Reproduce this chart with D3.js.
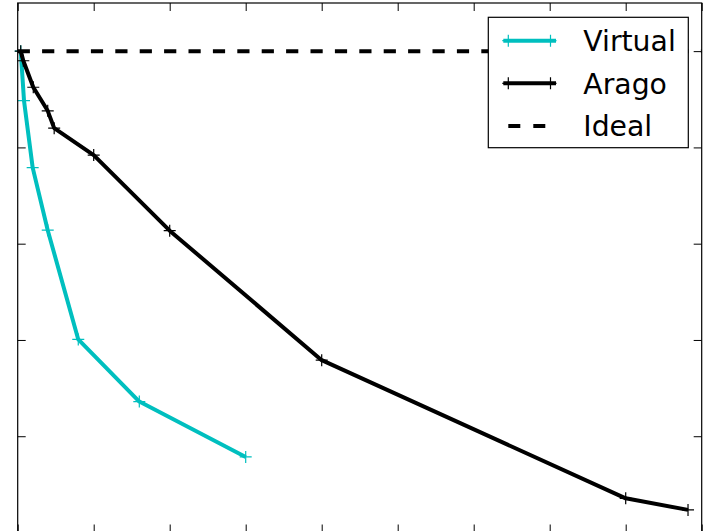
<!DOCTYPE html>
<html>
<head>
<meta charset="utf-8">
<script src="https://cdn.jsdelivr.net/npm/d3@7"></script>
<style>
  html, body { margin: 0; padding: 0; background: #fff; }
  svg { display: block; }
</style>
</head>
<body>
<svg id="chart" width="703" height="531"></svg>
<script>
// Series values
const virtualX = [0.04, 0.083, 0.197, 0.395, 0.797, 1.6, 3.0];
const virtualY = [1.0, 0.897, 0.758, 0.628, 0.401, 0.272, 0.157];
const aragoX = [0.04, 0.074, 0.205, 0.395, 0.48, 1.0, 2.0, 4.0, 8.0, 8.82];
const aragoY = [1.0, 0.98, 0.925, 0.876, 0.84, 0.784, 0.627, 0.358, 0.071, 0.047];
const idealX = [0, 9];
const idealY = [1.0, 1.0];

// Axis ticks
const xTicks = [0, 1, 2, 3, 4, 5, 6, 7, 8, 9];
const yTicks = [0, 0.2, 0.4, 0.6, 0.8, 1.0];

// Legend entries
const legendNames = ["Virtual", "Arago", "Ideal"];

const svg = d3.select("#chart");
const plotLeft = 17.7, plotRight = 701.7, plotTop = 3, plotBottom = 532.5;

const x = d3.scaleLinear().domain([0, 9]).range([plotLeft, plotRight]);
const y = d3.scaleLinear().domain([0, 1.1]).range([plotBottom, plotTop]);

const cyan = "#00bfbf";
const lineW = 4;

const toPts = (xs, ys) => xs.map((d, i) => [d, ys[i]]);
const line = d3.line().x(d => x(d[0])).y(d => y(d[1]));

// Data lines
function drawSeries(pts, color, dash) {
  svg.append("path")
    .datum(pts)
    .attr("d", line)
    .attr("fill", "none")
    .attr("stroke", color)
    .attr("stroke-width", lineW)
    .attr("stroke-linejoin", "round")
    .attr("stroke-dasharray", dash || null);
}
function drawMarkers(pts, color) {
  const s = 6;
  svg.append("g").selectAll("path")
    .data(pts)
    .join("path")
    .attr("d", d => {
      const cx = x(d[0]), cy = y(d[1]);
      return `M${cx - s},${cy}H${cx + s}M${cx},${cy - s}V${cy + s}`;
    })
    .attr("stroke", color)
    .attr("stroke-width", 1.2)
    .attr("fill", "none");
}

const virtualPts = toPts(virtualX, virtualY);
const aragoPts = toPts(aragoX, aragoY);
const idealPts = toPts(idealX, idealY);

drawSeries(virtualPts, cyan);
drawMarkers(virtualPts, cyan);
drawSeries(aragoPts, "#000");
drawMarkers(aragoPts, "#000");
drawSeries(idealPts, "#000", "12.2,12.2");

// Ticks on all four sides, pointing inward
const tickLen = 8;
function styleAxis(g) {
  g.select(".domain").remove();
  g.selectAll(".tick line").attr("stroke", "#000").attr("stroke-width", 1);
  g.selectAll(".tick text").remove();
}
svg.append("g").attr("transform", `translate(0,${plotBottom})`)
  .call(d3.axisBottom(x).tickValues(xTicks).tickSize(-tickLen).tickFormat("")).call(styleAxis);
svg.append("g").attr("transform", `translate(0,${plotTop})`)
  .call(d3.axisTop(x).tickValues(xTicks).tickSize(-tickLen).tickFormat("")).call(styleAxis);
svg.append("g").attr("transform", `translate(${plotLeft},0)`)
  .call(d3.axisLeft(y).tickValues(yTicks).tickSize(-tickLen).tickFormat("")).call(styleAxis);
svg.append("g").attr("transform", `translate(${plotRight},0)`)
  .call(d3.axisRight(y).tickValues(yTicks).tickSize(-tickLen).tickFormat("")).call(styleAxis);

// Frame
svg.append("rect")
  .attr("x", plotLeft).attr("y", plotTop)
  .attr("width", plotRight - plotLeft).attr("height", plotBottom - plotTop)
  .attr("fill", "none").attr("stroke", "#000").attr("stroke-width", 1.2);

// Legend
const lg = svg.append("g");
lg.append("rect")
  .attr("x", 488.3).attr("y", 17.3).attr("width", 200).attr("height", 130.4)
  .attr("fill", "#fff").attr("stroke", "#000").attr("stroke-width", 1.2);

const rowY = [40.7, 83.3, 126];
const styles = [
  { color: cyan, dash: null, marker: true },
  { color: "#000", dash: null, marker: true },
  { color: "#000", dash: "12,13", marker: false }
];
legendNames.forEach((name, i) => {
  const st = styles[i];
  const cy = rowY[i];
  const x0 = st.marker ? 503.3 : 508.3;
  const x1 = st.marker ? 556 : 546;
  lg.append("line")
    .attr("x1", x0).attr("x2", x1).attr("y1", cy).attr("y2", cy)
    .attr("stroke", st.color).attr("stroke-width", lineW)
    .attr("stroke-dasharray", st.dash);
  if (st.marker) {
    [508.3, 550.5].forEach(mx => {
      lg.append("path")
        .attr("d", `M${mx - 6},${cy}H${mx + 6}M${mx},${cy - 6}V${cy + 6}`)
        .attr("stroke", st.color).attr("stroke-width", 1.2);
    });
  }
  lg.append("text")
    .attr("x", 583.3).attr("y", cy + 10.2)
    .attr("font-family", "DejaVu Sans")
    .attr("font-size", 28.3)
    .attr("fill", "#000")
    .text(name);
});
</script>
</body>
</html>
